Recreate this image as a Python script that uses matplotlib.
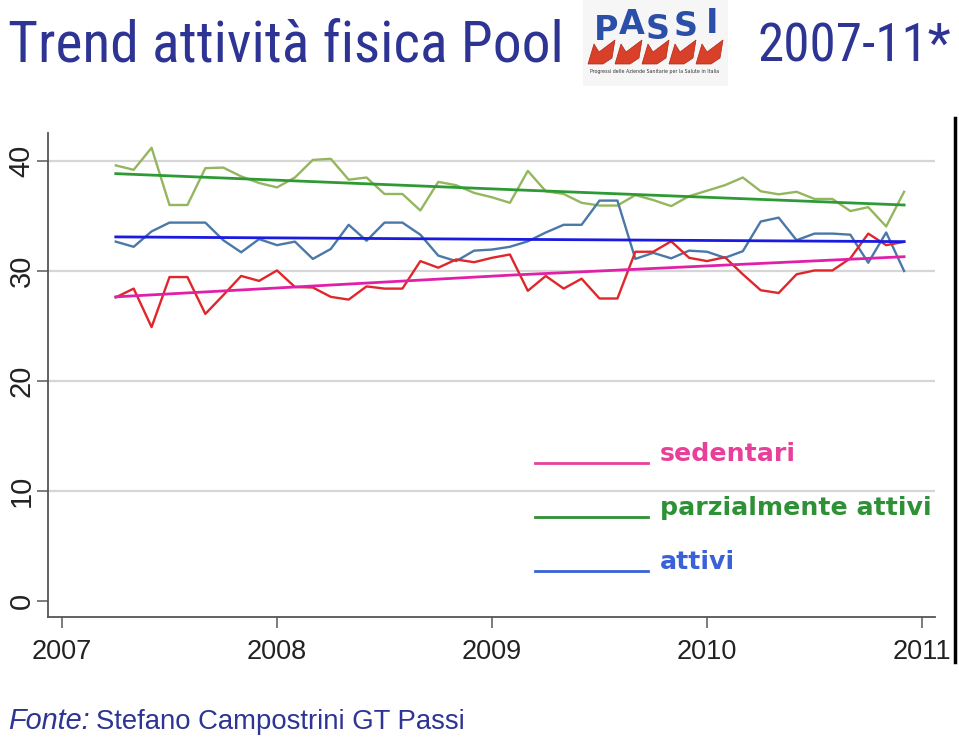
import numpy as np
import matplotlib
matplotlib.use("Agg")
import matplotlib.pyplot as plt
from matplotlib.lines import Line2D
from matplotlib.patches import Polygon, Rectangle
from matplotlib import font_manager

# ---------------- data ----------------
start_year, start_month = 2007, 4          # April 2007, monthly up to Dec 2010
sedentari = [27.6, 28.4, 24.9, 29.45, 29.45, 26.1, 27.8, 29.55, 29.1, 30.05,
             28.55, 28.5, 27.65, 27.4, 28.6, 28.4, 28.4, 30.9, 30.3, 31.05,
             30.8, 31.2, 31.5, 28.2, 29.55, 28.4, 29.3, 27.5, 27.5, 31.75,
             31.75, 32.7, 31.2, 30.9, 31.25, 29.7, 28.25, 28.0, 29.7, 30.05,
             30.05, 31.15, 33.4, 32.35, 32.65]
parz_attivi = [39.6, 39.2, 41.2, 36.0, 36.0, 39.35, 39.4, 38.6, 38.0, 37.6,
               38.5, 40.1, 40.2, 38.3, 38.5, 37.0, 37.0, 35.5, 38.1, 37.8,
               37.1, 36.7, 36.2, 39.1, 37.25, 37.0, 36.2, 35.95, 35.95, 36.9,
               36.45, 35.9, 36.8, 37.3, 37.8, 38.5, 37.25, 36.97, 37.2, 36.55,
               36.55, 35.45, 35.8, 34.05, 37.2]
attivi = [32.67, 32.2, 33.6, 34.4, 34.4, 34.4, 32.8, 31.7, 32.9, 32.35,
          32.67, 31.1, 32.0, 34.2, 32.75, 34.4, 34.4, 33.3, 31.4, 30.9,
          31.85, 31.95, 32.2, 32.7, 33.5, 34.2, 34.2, 36.4, 36.4, 31.1,
          31.65, 31.15, 31.85, 31.75, 31.2, 31.8, 34.5, 34.85, 32.8, 33.4,
          33.4, 33.3, 30.75, 33.5, 30.0]
# trend lines (start, middle, end month)
trend_idx = [0, 22, 44]
trend_sed = [27.65, 29.62, 31.3]
trend_parz = [38.85, 37.4, 36.0]
trend_att = [33.1, 32.88, 32.67]

year_ticks = [2007, 2008, 2009, 2010, 2011]
y_ticks = [0, 10, 20, 30, 40]

title_left = "Trend attività fisica Pool"
title_right = "2007-11*"
legend_labels = ["sedentari", "parzialmente attivi", "attivi"]
legend_colors = ["#e8409a", "#2e9135", "#3a62d8"]

# ---------------- fonts ----------------
names = {f.name for f in font_manager.fontManager.ttflist}
title_family = "DejaVu Sans"
title_stretch = "normal"
for cand in ["Liberation Sans Narrow", "Roboto Condensed", "Open Sans Condensed"]:
    if cand in names:
        title_family = cand
        break
else:
    if any(f.name == "DejaVu Sans" and f.stretch == "condensed"
           for f in font_manager.fontManager.ttflist):
        title_stretch = "condensed"

# ---------------- figure ----------------
W, H = 959, 740
fig = plt.figure(figsize=(W / 100, H / 100), dpi=100)
fig.patch.set_facecolor("white")
renderer = fig.canvas.get_renderer()

def fx(px):
    return px / W

def fy(py):
    return 1 - py / H

def fit(t, width_px):
    bb = t.get_window_extent(renderer)
    t.set_fontsize(t.get_fontsize() * width_px / bb.width)

ax = fig.add_axes([fx(48), fy(617), fx(935) - fx(48), fy(133) - fy(617)])

n = len(sedentari)
x = start_year + (start_month - 1 + np.arange(n)) / 12.0
xt = x[trend_idx]

ax.plot(x, parz_attivi, color="#94b65e", lw=1.7, zorder=3)
ax.plot(x, attivi, color="#4a78a8", lw=1.7, zorder=3)
ax.plot(x, sedentari, color="#e0262a", lw=1.7, zorder=3)
ax.plot(xt, trend_parz, color="#2e9a35", lw=2.0, zorder=4)
ax.plot(xt, trend_att, color="#1a1ae0", lw=2.0, zorder=4)
ax.plot(xt, trend_sed, color="#e020a8", lw=2.0, zorder=4)

ax.set_xlim(2007 - 14 / 215, 2007 + 873 / 215)
ax.set_ylim(-16 / 11, 468 / 11)
ax.set_xticks(year_ticks)
ax.set_xticklabels([str(v) for v in year_ticks], fontsize=19.5,
                   family="Liberation Sans", color="#222222")
ax.set_yticks(y_ticks)
ax.set_yticklabels([str(v) for v in y_ticks], fontsize=21, rotation=90,
                   va="center", family="Liberation Sans", color="#222222")
ax.tick_params(axis="both", length=8, width=1.2, color="#666666")
ax.tick_params(axis="x", pad=8)
ax.tick_params(axis="y", pad=1)
for s in ["top", "right"]:
    ax.spines[s].set_visible(False)
for s in ["left", "bottom"]:
    ax.spines[s].set_color("#555555")
    ax.spines[s].set_linewidth(1.3)
for v in y_ticks[1:]:
    ax.axhline(v, color="#d6d6d6", lw=1.6, zorder=1)

# ---------------- legend (manual) ----------------
leg_y = [463, 517, 571]
leg_texts = []
for lab, col, yy in zip(legend_labels, legend_colors, leg_y):
    fig.add_artist(Line2D([fx(535), fx(648)], [fy(yy), fy(yy)], color=col, lw=2.0))
    t = fig.text(fx(660), fy(yy - 2), lab, color=col, fontsize=18,
                 fontweight="bold", family="DejaVu Sans", va="baseline", ha="left")
    leg_texts.append(t)
fit(leg_texts[1], 273)
for t in leg_texts:
    t.set_fontsize(leg_texts[1].get_fontsize())

# ---------------- title ----------------
title_col = "#2d3493"
t1 = fig.text(fx(8), fy(61), title_left, color=title_col, fontsize=36,
              family=title_family, fontstretch=title_stretch, va="baseline", ha="left")
fit(t1, 555)
t2 = fig.text(fx(757), fy(61), title_right, color=title_col, fontsize=36,
              family=title_family, fontstretch=title_stretch, va="baseline", ha="left")
fit(t2, 193)

# ---------------- logo ----------------
fig.add_artist(Rectangle((fx(583), fy(86)), fx(728) - fx(583), fy(0) - fy(86),
                         facecolor="#f6f6f6", edgecolor="none", transform=fig.transFigure))
for ch, px, py in zip("PASSI", [606, 632, 658, 686, 712], [40, 34, 39, 36, 33]):
    fig.text(fx(px), fy(py), ch, color="#2b4fa8", fontsize=24, fontweight="bold",
             family="DejaVu Sans", ha="center", va="baseline")
for k in range(5):
    x0 = 588 + k * 27
    pts = [(x0, 64), (x0 + 6, 44), (x0 + 11, 52), (x0 + 27, 40), (x0 + 24, 58), (x0 + 15, 64)]
    fig.add_artist(Polygon([(fx(a), fy(b)) for a, b in pts], closed=True,
                           facecolor="#d8402a", edgecolor="#b02818", lw=0.5,
                           transform=fig.transFigure))
fig.text(fx(655), fy(73), "Progressi delle Aziende Sanitarie per la Salute in Italia",
         fontsize=3.4, color="#333333", ha="center", va="baseline", family="DejaVu Sans")

# ---------------- footer ----------------
f1 = fig.text(fx(8), fy(729), "Fonte:", color=title_col, fontsize=17, style="italic",
              family="Liberation Sans", va="baseline", ha="left")
fit(f1, 82)
f2 = fig.text(fx(96), fy(729), "Stefano Campostrini GT Passi", color=title_col,
              fontsize=f1.get_fontsize(), family="Liberation Sans", va="baseline", ha="left")
fit(f2, 369)

# slide border line on the right
fig.add_artist(Line2D([fx(955), fx(955)], [fy(118), fy(662)], color="black", lw=2.5))

fig.savefig("out.png", dpi=100)
